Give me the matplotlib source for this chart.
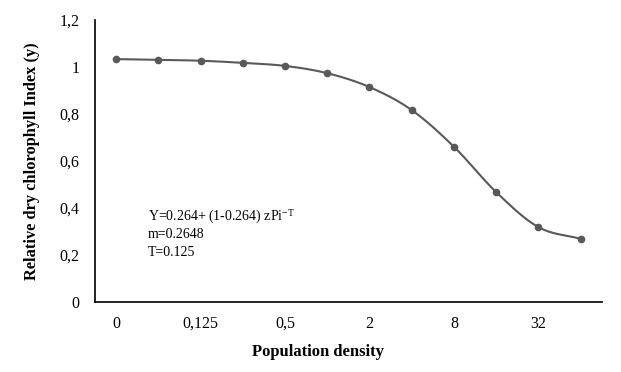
import numpy as np
import matplotlib.pyplot as plt

plt.rcParams['font.family'] = ['Liberation Serif', 'DejaVu Serif']
plt.rcParams['mathtext.fontset'] = 'stix'

# Data
density = ['0', '0,0625', '0,125', '0,25', '0,5', '1', '2', '4', '8', '16', '32', '64']
tick_labels = ['0', '', '0,125', '', '0,5', '', '2', '', '8', '', '32', '']
rel_index = [1.034, 1.031, 1.027, 1.018, 1.005, 0.974, 0.915, 0.817, 0.661, 0.468, 0.319, 0.269]
y_ticks = [0, 0.2, 0.4, 0.6, 0.8, 1.0, 1.2]
y_tick_labels = ['0', '0,2', '0,4', '0,6', '0,8', '1', '1,2']
note_lines = [r'Y=0.264+ (1-0.264) zPi$^{\mathregular{-T}}$', 'm=0.2648', 'T=0.125']


def smooth(x, y, n=20):
    # Catmull-Rom curve through the points, like Excel's smoothed line
    x = np.asarray(x, float)
    y = np.asarray(y, float)
    px = np.concatenate([[2 * x[0] - x[1]], x, [2 * x[-1] - x[-2]]])
    py = np.concatenate([[2 * y[0] - y[1]], y, [2 * y[-1] - y[-2]]])
    xs, ys = [], []
    t = np.linspace(0, 1, n, endpoint=False)
    for i in range(1, len(px) - 2):
        for p, out in ((px, xs), (py, ys)):
            p0, p1, p2, p3 = p[i - 1], p[i], p[i + 1], p[i + 2]
            out.extend(0.5 * ((2 * p1) + (-p0 + p2) * t
                              + (2 * p0 - 5 * p1 + 4 * p2 - p3) * t ** 2
                              + (-p0 + 3 * p1 - 3 * p2 + p3) * t ** 3))
    xs.append(x[-1])
    ys.append(y[-1])
    return np.array(xs), np.array(ys)


W, H = 621, 372
fig = plt.figure(figsize=(W / 100, H / 100), dpi=100)
ax = fig.add_axes((0.153, 0.188, 0.816, 0.758))

x = np.arange(len(density))
sx, sy = smooth(x, rel_index)
ax.plot(sx, sy, color='#595959', lw=1.5)
ax.plot(x, rel_index, 'o', color='#595959', ms=4.5)

ax.set_xlim(-0.5, len(density) - 0.5)
ax.set_ylim(0, 1.2)
ax.set_xticks(x)
ax.set_xticklabels(tick_labels)
ax.set_yticks(y_ticks)
ax.set_yticklabels(y_tick_labels)
ax.tick_params(axis='both', length=0, labelsize=11.5, pad=10)
ax.tick_params(axis='y', pad=11)

for s in ('top', 'right'):
    ax.spines[s].set_visible(False)
ax.spines['left'].set_linewidth(1.2)
ax.spines['bottom'].set_linewidth(1.2)

# axis titles placed as in the reference (x title centred on the figure)
fig.text(318 / W, 1 - 352 / H, 'Population density', fontsize=12,
         fontweight='bold', ha='center', va='center')
fig.text(32 / W, 1 - 161 / H, 'Relative dry chlorophyll Index (y)', fontsize=11.8,
         fontweight='bold', rotation=90, ha='center', va='center')

# fitted-model note
for txt, yp in zip(note_lines, (217, 235, 253)):
    fig.text(148 / W, 1 - yp / H, txt, fontsize=10, va='center')

fig.savefig('out.png', dpi=100)
